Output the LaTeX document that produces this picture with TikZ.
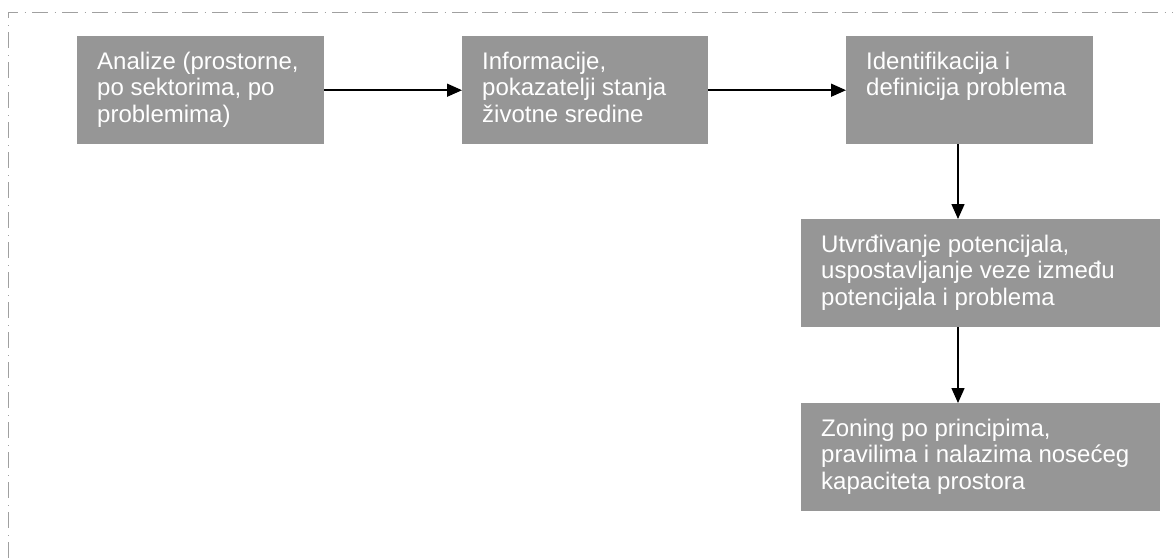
\documentclass[tikz,border=0pt]{standalone}
\usepackage{fontspec}
\setmainfont{Liberation Sans}
\usetikzlibrary{arrows.meta}
\definecolor{boxgray}{HTML}{969696}
\definecolor{framegray}{HTML}{A0A0A0}
\newcommand{\boxtxt}[2]{\parbox[t][108pt][t]{#1}{\rule{0pt}{33pt}#2}}
\begin{document}
\begin{tikzpicture}[x=1pt,y=-1pt,
  stepbox/.style={fill=boxgray, draw=none, text=white, inner xsep=20pt, inner ysep=0pt,
    anchor=north west, minimum height=108pt,
    font=\fontsize{24pt}{26.7pt}\selectfont, align=left},
  arr/.style={line width=1.5pt, -{Triangle[length=15pt,width=13pt]}},
  frame/.style={draw=framegray, line width=1pt, dash pattern=on 16pt off 6.5pt on 1pt off 6.5pt}]
\useasboundingbox (0,0) rectangle (1173,558);
\draw[frame] (8,558) -- (8,12) -- (1173,12);
\node[stepbox] (b1) at (77,36) {\boxtxt{207pt}{Analize (prostorne,\\po sektorima, po\\problemima)}};
\node[stepbox] (b2) at (462,36) {\boxtxt{206pt}{Informacije,\\pokazatelji stanja\\životne sredine}};
\node[stepbox] (b3) at (846,36) {\boxtxt{207pt}{Identifikacija i\\definicija problema}};
\node[stepbox] (b4) at (801,219) {\boxtxt{319pt}{Utvrđivanje potencijala,\\uspostavljanje veze između\\potencijala i problema}};
\node[stepbox] (b5) at (801,403) {\boxtxt{319pt}{Zoning po principima,\\pravilima i nalazima nosećeg\\kapaciteta prostora}};
\coordinate (ax) at (958,0);
\draw[arr] (b1.east) -- (b2.west);
\draw[arr] (b2.east) -- (b3.west);
\draw[arr] (b3.south -| ax) -- (b4.north -| ax);
\draw[arr] (b4.south -| ax) -- (b5.north -| ax);
\end{tikzpicture}
\end{document}
